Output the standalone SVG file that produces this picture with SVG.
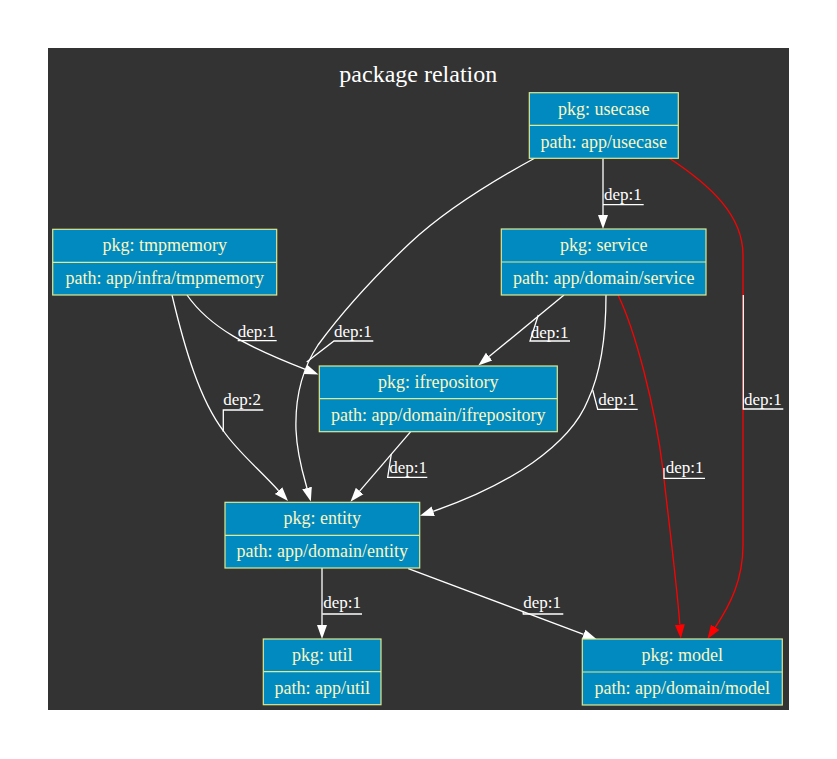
<svg xmlns="http://www.w3.org/2000/svg" width="837" height="759" viewBox="0 0 837 759">
<style>
.bg{fill:#333333}
.title{font-family:"Liberation Serif","Times New Roman",serif;font-size:24px;fill:#ffffff;text-anchor:middle}
.box{fill:#008abf;stroke:#dfe98f;stroke-width:1.2}
.div{stroke:#dfe98f;stroke-width:1.2}
.nt{font-family:"Liberation Serif","Times New Roman",serif;font-size:18px;fill:#fdf6c0;text-anchor:middle}
.e{fill:none;stroke:#ffffff;stroke-width:1.3}
.r{fill:none;stroke:#ff0000;stroke-width:1.3}
.lbl{font-family:"Liberation Serif","Times New Roman",serif;font-size:17px;fill:#ffffff}
.dec{fill:none;stroke:#ffffff;stroke-width:1.3}
</style>
<defs>
<marker id="aw" viewBox="0 -6 16 12" markerWidth="16" markerHeight="12" refX="0" refY="0" orient="auto" markerUnits="userSpaceOnUse"><path d="M0,-5 L14,0 L0,5 z" fill="#ffffff"/></marker>
<marker id="ar" viewBox="0 -6 16 12" markerWidth="16" markerHeight="12" refX="0" refY="0" orient="auto" markerUnits="userSpaceOnUse"><path d="M0,-5 L14,0 L0,5 z" fill="#ff0000"/></marker>
</defs>
<rect class="bg" x="48" y="48" width="741" height="662"/>
<text class="title" x="418.3" y="81.7">package relation</text>
<g id="connectors">
<path class="e" d="M603,158.3 L603,215" marker-end="url(#aw)"/>
<path class="e" d="M535,158 C480,188 440,215 410,243 C375,276 340,315 318,345 C300,372 295,400 296,430 C297,455 303,474 307,488" marker-end="url(#aw)"/>
<path class="r" d="M669,158 C710,185 743,215 743,255 L743,545 C743,580 730,605 715.2,627.3" marker-end="url(#ar)"/>
<path class="r" d="M618,295 C635,330 655,405 663,470 C668,515 677,585 679.8,624.5" marker-end="url(#ar)"/>
<path class="e" d="M606,295 C606,330 602,370 588,400 C570,445 510,485 433.2,511.3" marker-end="url(#aw)"/>
<path class="e" d="M564,295 L489.1,356.6" marker-end="url(#aw)"/>
<path class="e" d="M187,295 C210,328 248,347 305.4,369.4" marker-end="url(#aw)"/>
<path class="e" d="M172,295 C185,350 200,400 223.5,431 C238,452 258,468 278.6,490.7" marker-end="url(#aw)"/>
<path class="e" d="M410.7,431.7 L359.6,491.1" marker-end="url(#aw)"/>
<path class="e" d="M322,568 L322,625" marker-end="url(#aw)"/>
<path class="e" d="M408.3,568.7 L583.6,634.4" marker-end="url(#aw)"/>
<!-- labels -->
<text class="lbl" x="604" y="200">dep:1</text>
<path class="dec" d="M603,204.7 L643.7,204.7"/>
<text class="lbl" x="334" y="337">dep:1</text>
<path class="dec" d="M306.7,362 L334,341 L373.3,341"/>
<text class="lbl" x="744" y="405">dep:1</text>
<path class="dec" d="M743.3,295 L743.3,409 L783.3,409"/>
<text class="lbl" x="665.7" y="472.7">dep:1</text>
<path class="dec" d="M664,468 L664,478.3 L705,478.3"/>
<text class="lbl" x="598.3" y="405">dep:1</text>
<path class="dec" d="M592.7,390 L597.7,409.3 L637.7,409.3"/>
<text class="lbl" x="530.7" y="337.7">dep:1</text>
<path class="dec" d="M538.3,315 L530,341 L570,341"/>
<text class="lbl" x="237.7" y="337.3">dep:1</text>
<path class="dec" d="M237.7,340.7 L276.7,340.7"/>
<text class="lbl" x="223.3" y="405">dep:2</text>
<path class="dec" d="M223.3,431.7 L223.3,410 L263.3,410"/>
<text class="lbl" x="389.3" y="473.3">dep:1</text>
<path class="dec" d="M391.3,454 L387.7,477.3 L427.3,477.3"/>
<text class="lbl" x="323.3" y="608.3">dep:1</text>
<path class="dec" d="M322.3,614 L362,614"/>
<text class="lbl" x="523.3" y="608.3">dep:1</text>
<path class="dec" d="M523,611 L523.3,614 L563.3,614"/>
</g>
<g id="usecase">
<rect class="box" x="529.3" y="92.7" width="149" height="65.6"/>
<line class="div" x1="529.3" y1="125.3" x2="678.3" y2="125.3"/>
<text class="nt" x="603.8" y="114.5">pkg: usecase</text>
<text class="nt" x="603.8" y="147.8">path: app/usecase</text>
</g>
<g id="service">
<rect class="box" x="501.3" y="229" width="204.7" height="66"/>
<line class="div" x1="501.3" y1="262" x2="706" y2="262"/>
<text class="nt" x="603.7" y="251">pkg: service</text>
<text class="nt" x="603.7" y="284">path: app/domain/service</text>
</g>
<g id="tmpmemory">
<rect class="box" x="52.7" y="229.3" width="224" height="65.7"/>
<line class="div" x1="52.7" y1="262.3" x2="276.7" y2="262.3"/>
<text class="nt" x="164.7" y="251.3">pkg: tmpmemory</text>
<text class="nt" x="164.7" y="284.3">path: app/infra/tmpmemory</text>
</g>
<g id="ifrepository">
<rect class="box" x="319.3" y="366" width="238" height="65.7"/>
<line class="div" x1="319.3" y1="398.7" x2="557.3" y2="398.7"/>
<text class="nt" x="438.3" y="388">pkg: ifrepository</text>
<text class="nt" x="438.3" y="420.8">path: app/domain/ifrepository</text>
</g>
<g id="entity">
<rect class="box" x="225" y="502.3" width="194.7" height="65.7"/>
<line class="div" x1="225" y1="535.3" x2="419.7" y2="535.3"/>
<text class="nt" x="322.3" y="524.3">pkg: entity</text>
<text class="nt" x="322.3" y="557.2">path: app/domain/entity</text>
</g>
<g id="util">
<rect class="box" x="263.3" y="639" width="117.7" height="65.7"/>
<line class="div" x1="263.3" y1="671.7" x2="381" y2="671.7"/>
<text class="nt" x="322.2" y="661">pkg: util</text>
<text class="nt" x="322.2" y="693.8">path: app/util</text>
</g>
<g id="model">
<rect class="box" x="582.3" y="639" width="200" height="66"/>
<line class="div" x1="582.3" y1="672" x2="782.3" y2="672"/>
<text class="nt" x="682.3" y="661">pkg: model</text>
<text class="nt" x="682.3" y="694">path: app/domain/model</text>
</g>
</svg>
